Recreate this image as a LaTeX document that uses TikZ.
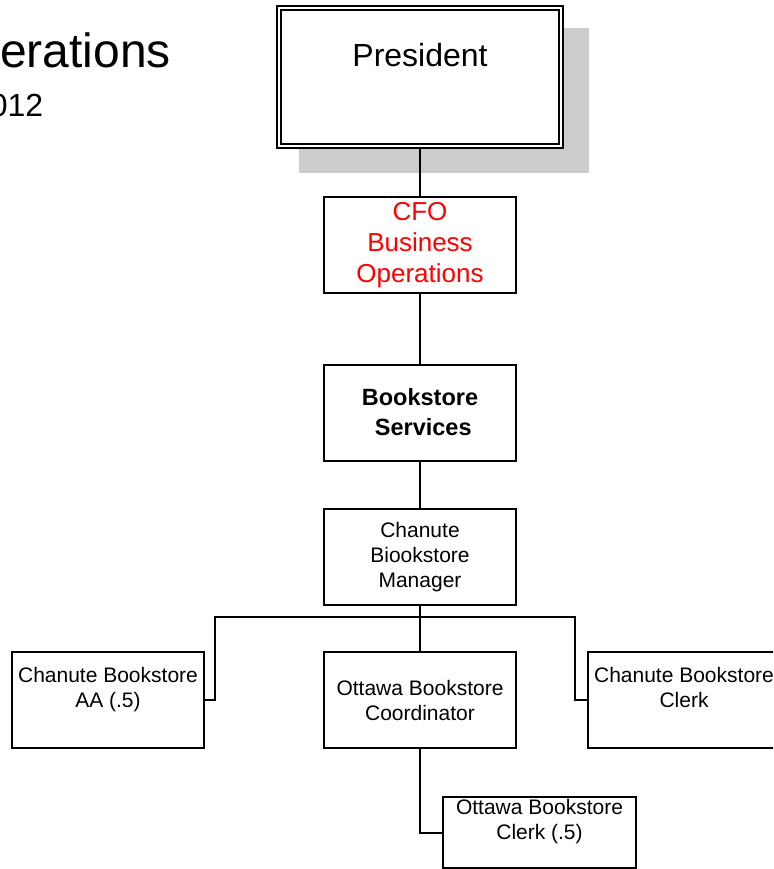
\documentclass[tikz,border=0pt]{standalone}
\usepackage{fontspec}
\setmainfont{Liberation Sans}
% box contents: #1 inner vertical position, #2 height, #3 width, #4 text
\newcommand{\orgtext}[4]{\parbox[c][#2][#1]{#3}{\centering #4}}
\tikzset{
  unitbox/.style={draw, line width=2pt, fill=white, inner sep=0pt,
                  font=\fontsize{21}{25}\selectfont},
  link/.style={draw, line width=2pt},
  heading/.style={anchor=base east, inner sep=0pt},
}
\begin{document}
\begin{tikzpicture}[x=1pt, y=-1pt]
  \useasboundingbox (0,0) rectangle (773,869);
  \clip (0,0) rectangle (773,869);

  % page heading, running off the left edge
  \node[heading, font=\fontsize{48}{56}\selectfont] (title) at (171,68) {Operations};
  \node[heading, font=\fontsize{32}{38}\selectfont] (year) at (43.5,117) {2012};

  % shadow behind the top box
  \fill[black!20] (299,28) rectangle (589,173);

  % boxes
  \node[unitbox, double, double distance=2pt] (pres) at (420,77)
    {\orgtext{t}{137.5pt}{282.6pt}{\fontsize{32}{38}\selectfont\vspace*{32pt}\strut President}};
  \node[unitbox] (cfo) at (420,245)
    {\orgtext{c}{96pt}{192pt}{\color{red}\fontsize{26}{31}\selectfont CFO\\Business\\Operations}};
  \node[unitbox] (svc) at (420,412.5)
    {\orgtext{c}{96pt}{192pt}{\bfseries\fontsize{23.5}{30}\selectfont Bookstore\\\hspace*{.28em}Services}};
  \node[unitbox] (mgr) at (420,557)
    {\orgtext{c}{96pt}{192pt}{Chanute\\Biookstore\\Manager}};
  \node[unitbox] (coord) at (420,700)
    {\orgtext{c}{96pt}{192pt}{Ottawa Bookstore\\Coordinator}};
  \node[unitbox] (aa) at (108,700)
    {\orgtext{t}{96pt}{192pt}{\vspace*{12.5pt}\strut Chanute Bookstore\\AA (.5)}};
  \node[unitbox] (clerk) at (684,700)
    {\orgtext{t}{96pt}{192pt}{\vspace*{12.5pt}\strut Chanute Bookstore\\Clerk}};
  \node[unitbox] (oclerk) at (539.5,832.5)
    {\orgtext{t}{71pt}{193pt}{\strut Ottawa Bookstore\\Clerk (.5)}};

  % bus under the manager
  \coordinate (busL) at (215,617);
  \coordinate (busR) at (575,617);

  % connectors
  \path[link] (pres.south) -- (cfo.north);
  \path[link] (cfo.south) -- (svc.north);
  \path[link] (svc.south) -- (mgr.north);
  \path[link] (mgr.south) -- (coord.north);
  \path[link] (aa.east) -| (busL) -- (busR) |- (clerk.west);
  \path[link] (coord.south) |- (oclerk.west);
\end{tikzpicture}
\end{document}
